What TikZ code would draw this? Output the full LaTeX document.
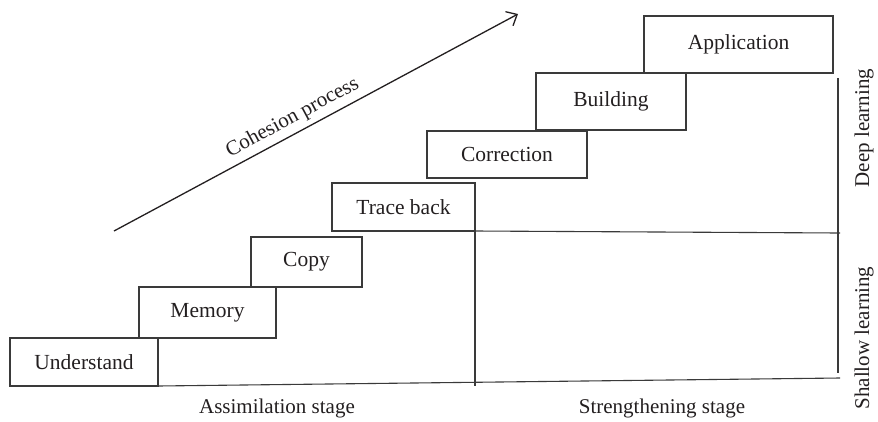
\documentclass[tikz,border=0pt]{standalone}
\usepackage{fontspec}
\setmainfont{Liberation Serif}
\usetikzlibrary{arrows.meta}
\definecolor{linegray}{HTML}{3A3A3A}
\definecolor{textgray}{HTML}{231F20}
\begin{document}
\begin{tikzpicture}[x=1pt,y=-1pt,
  stepbox/.style={draw=linegray, line width=1.1pt, inner sep=0pt, outer sep=0pt,
    anchor=north west, text=textgray, font=\fontsize{21.5}{25}\selectfont},
  rule/.style={draw=linegray, line width=1.1pt},
  lbl/.style={text=textgray, inner sep=0pt, font=\fontsize{21}{25}\selectfont}]
\useasboundingbox (0,0) rectangle (878,421);

% the staircase of learning steps
\node[stepbox, minimum width=148pt, minimum height=48pt] (und)   at (10,338)  {Understand};
\node[stepbox, minimum width=137pt, minimum height=51pt] (mem)   at (139,287) {Memory};
\node[stepbox, minimum width=111pt, minimum height=50pt] (copy)  at (251,237) {Copy};
\node[stepbox, minimum width=143pt, minimum height=48pt] (trace) at (332,183) {Trace back};
\node[stepbox, minimum width=160pt, minimum height=47pt] (corr)  at (427,131) {Correction};
\node[stepbox, minimum width=150pt, minimum height=57pt] (build) at (536,73)  {Building};
\node[stepbox, minimum width=189pt, minimum height=57pt] (app)   at (644,16)  {Application};

% stage and depth dividers
\coordinate (baseR) at (840,378);
\coordinate (midB)  at (475,386);
\coordinate (midR)  at (840,233);
\coordinate (sideT) at (838,78);
\coordinate (sideB) at (838,373);
\draw[rule] (und.south east) -- (baseR);
\draw[rule] (trace.south east) -- (midB);
\draw[rule] (trace.south east) -- (midR);
\draw[rule] (sideT) -- (sideB);

% cohesion arrow
\coordinate (arrS) at (114,231);
\coordinate (arrE) at (518,14);
\draw[draw=textgray, line width=1.3pt, -{Straight Barb[length=9pt,width=16pt,line width=1.3pt]}]
  (arrS) -- node[pos=0.46, above=5pt, sloped, lbl] (coh) {Cohesion process} (arrE);

% labels
\node[lbl, rotate=90] (deep) at (864,128) {Deep learning};
\node[lbl, rotate=90] (shal) at (864,338) {Shallow learning};
\node[lbl] (assim)  at (277,408) {Assimilation stage};
\node[lbl] (streng) at (662,408) {Strengthening stage};
\end{tikzpicture}
\end{document}
